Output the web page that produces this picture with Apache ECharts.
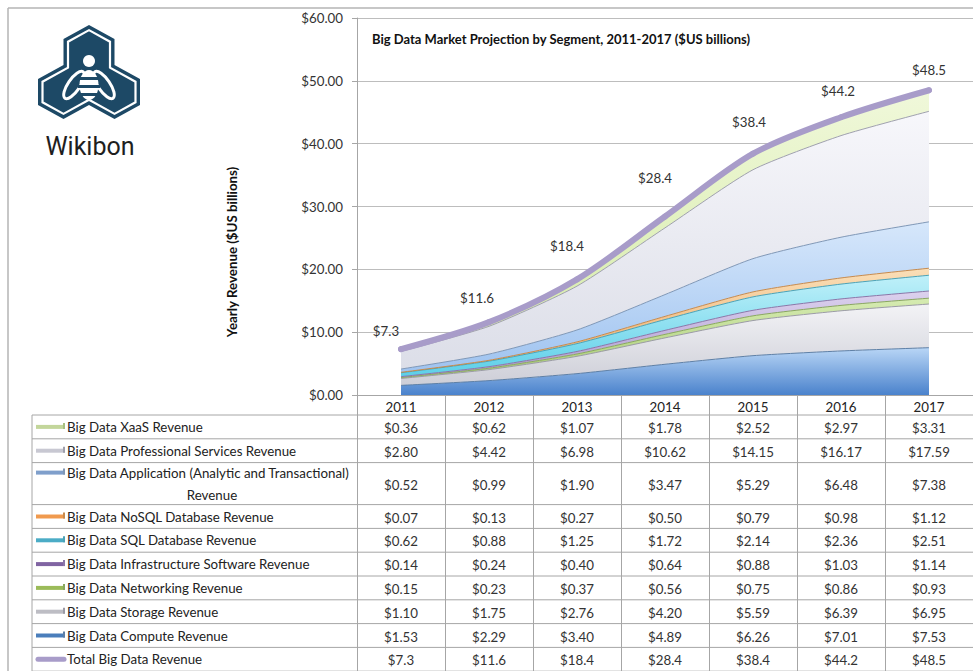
<!DOCTYPE html>
<html>
<head>
<meta charset="utf-8">
<script src="https://cdn.jsdelivr.net/npm/echarts@6/dist/echarts.min.js"></script>
<style>
  html, body { margin: 0; padding: 0; background: #fff; }
  #chart { width: 973px; height: 671px; }
</style>
</head>
<body>
<div id="chart"></div>
<script>
// values ($US billions)
const YEARS = ['2011', '2012', '2013', '2014', '2015', '2016', '2017'];
const XAAS = [0.36, 0.62, 1.07, 1.78, 2.52, 2.97, 3.31];
const PRO_SERVICES = [2.80, 4.42, 6.98, 10.62, 14.15, 16.17, 17.59];
const APPLICATION = [0.52, 0.99, 1.90, 3.47, 5.29, 6.48, 7.38];
const NOSQL = [0.07, 0.13, 0.27, 0.50, 0.79, 0.98, 1.12];
const SQL_DB = [0.62, 0.88, 1.25, 1.72, 2.14, 2.36, 2.51];
const INFRA_SOFTWARE = [0.14, 0.24, 0.40, 0.64, 0.88, 1.03, 1.14];
const NETWORKING = [0.15, 0.23, 0.37, 0.56, 0.75, 0.86, 0.93];
const STORAGE = [1.10, 1.75, 2.76, 4.20, 5.59, 6.39, 6.95];
const COMPUTE = [1.53, 2.29, 3.40, 4.89, 6.26, 7.01, 7.53];
const TOTAL = [7.3, 11.6, 18.4, 28.4, 38.4, 44.2, 48.5];

const TITLE = 'Big Data Market Projection by Segment, 2011-2017 ($US billions)';
const Y_NAME = 'Yearly Revenue ($US billions)';
const TOTAL_NAME = 'Total Big Data Revenue';

// stacked from the bottom up
const SEGMENTS = [
  { name: 'Big Data Compute Revenue', values: COMPUTE },
  { name: 'Big Data Storage Revenue', values: STORAGE },
  { name: 'Big Data Networking Revenue', values: NETWORKING },
  { name: 'Big Data Infrastructure Software Revenue', values: INFRA_SOFTWARE },
  { name: 'Big Data SQL Database Revenue', values: SQL_DB },
  { name: 'Big Data NoSQL Database Revenue', values: NOSQL },
  { name: 'Big Data Application (Analytic and Transactional) Revenue', values: APPLICATION },
  { name: 'Big Data Professional Services Revenue', values: PRO_SERVICES },
  { name: 'Big Data XaaS Revenue', values: XAAS },
];

const STYLES = {
  'Big Data Compute Revenue': { top: '#b9d6f6', bottom: '#4a82cc', line: '#5d7fa6', swatch: '#4a7ebb' },
  'Big Data Storage Revenue': { top: '#f3f3f6', bottom: '#cdced7', line: '#9b9ba6', swatch: '#bdbdc4' },
  'Big Data Networking Revenue': { top: '#d6ebb2', bottom: '#a7cb72', line: '#89a75f', swatch: '#9bbb59' },
  'Big Data Infrastructure Software Revenue': { top: '#dcd2ee', bottom: '#ab97ce', line: '#8a76a8', swatch: '#8064a2' },
  'Big Data SQL Database Revenue': { top: '#bff0f9', bottom: '#5ccfe8', line: '#4aa2b7', swatch: '#4bacc6' },
  'Big Data NoSQL Database Revenue': { top: '#fadfb8', bottom: '#eea862', line: '#c78a4c', swatch: '#f09a4e' },
  'Big Data Application (Analytic and Transactional) Revenue': { top: '#d6e7fb', bottom: '#9fc3f0', line: '#7f97b6', swatch: '#7f9fcb' },
  'Big Data Professional Services Revenue': { top: '#f7f7fb', bottom: '#dcdee8', line: '#9fa0ad', swatch: '#c8c8d2' },
  'Big Data XaaS Revenue': { top: '#f0f8da', bottom: '#d5eba8', line: '#a7bf7f', swatch: '#c3d69b' },
};
const TOTAL_COLOR = '#a89cc9';
// label nudges around each total point, as in the picture
const TOTAL_LABEL_OFFSETS = [[-15, -4], [-12, -10], [-10, -19], [-10, -24], [-4, -17], [-3, -12], [0, -6]];

const FONT = 'Lato, "Liberation Sans", sans-serif';
const FS = 13.3;
const GRID = { left: 357, top: 18, width: 626, height: 377 };

const chart = echarts.init(document.getElementById('chart'), null, { renderer: 'svg' });

const areaSeries = SEGMENTS.map((seg) => {
  const st = STYLES[seg.name];
  return {
    name: seg.name,
    type: 'line',
    stack: 'segments',
    data: seg.values,
    smooth: 0.2,
    symbol: 'none',
    lineStyle: { width: 1, color: st.line },
    areaStyle: {
      opacity: 1,
      color: new echarts.graphic.LinearGradient(0, 0, 0, 1, [
        { offset: 0, color: st.top },
        { offset: 1, color: st.bottom },
      ]),
    },
    emphasis: { disabled: true },
    silent: true,
  };
});

const option = {
  animation: false,
  backgroundColor: '#ffffff',
  title: {
    text: TITLE,
    left: 372,
    top: 32,
    padding: 0,
    textStyle: { fontFamily: FONT, fontSize: 13, fontWeight: 'bold', color: '#111' },
  },
  grid: GRID,
  xAxis: {
    type: 'category',
    data: YEARS,
    boundaryGap: true,
    axisLine: { lineStyle: { color: '#a6a6a6', width: 1 } },
    axisTick: { show: true, interval: 0, length: 276, lineStyle: { color: '#a6a6a6' } },
    axisLabel: { interval: 0, margin: 5, color: '#222', fontFamily: FONT, fontSize: FS },
    splitLine: { show: false },
  },
  yAxis: {
    type: 'value',
    min: 0,
    max: 60,
    interval: 10,
    axisLine: { show: true, lineStyle: { color: '#a6a6a6' } },
    axisTick: { show: true, length: 5, lineStyle: { color: '#a6a6a6' } },
    axisLabel: {
      margin: 14,
      color: '#333',
      fontFamily: FONT,
      fontSize: FS,
      formatter: (v) => '$' + v.toFixed(2),
    },
    splitLine: { lineStyle: { color: '#bdbdbd', width: 1 } },
  },
  series: areaSeries.concat([
    {
      name: TOTAL_NAME,
      type: 'line',
      data: TOTAL.map((v, i) => ({ value: v, label: { offset: TOTAL_LABEL_OFFSETS[i] } })),
      smooth: 0.3,
      symbol: 'circle',
      symbolSize: 6,
      itemStyle: { color: TOTAL_COLOR },
      lineStyle: { width: 6, color: TOTAL_COLOR, cap: 'round' },
      z: 5,
      label: {
        show: true,
        position: 'top',
        distance: 5,
        color: '#333',
        fontFamily: FONT,
        fontSize: FS,
        formatter: (p) => '$' + p.value.toFixed(1),
      },
      emphasis: { disabled: true },
      silent: true,
    },
  ]),
};

chart.setOption(option);

// ---- logo ----
function insetPolygon(pts, d) {
  let a = 0;
  for (let i = 0; i < pts.length; i++) {
    const p = pts[i], q = pts[(i + 1) % pts.length];
    a += p[0] * q[1] - q[0] * p[1];
  }
  const s = a > 0 ? 1 : -1;
  const n = pts.length;
  const lines = [];
  for (let i = 0; i < n; i++) {
    const p = pts[i], q = pts[(i + 1) % n];
    const dx = q[0] - p[0], dy = q[1] - p[1], L = Math.hypot(dx, dy);
    const nx = (-dy / L) * s, ny = (dx / L) * s;
    lines.push({ p: [p[0] + nx * d, p[1] + ny * d], d: [dx, dy] });
  }
  const out = [];
  for (let i = 0; i < n; i++) {
    const l1 = lines[(i - 1 + n) % n], l2 = lines[i];
    const cr = l1.d[0] * l2.d[1] - l1.d[1] * l2.d[0];
    const wx = l2.p[0] - l1.p[0], wy = l2.p[1] - l1.p[1];
    const t = (wx * l2.d[1] - wy * l2.d[0]) / cr;
    out.push([l1.p[0] + t * l1.d[0], l1.p[1] + t * l1.d[1]]);
  }
  return out;
}

function logoGraphics() {
  // three hexagons in a honeycomb, half width h, slope rise a, side s
  const cx = 89, y0 = 25, h = 25.5, a = 14, s = 26;
  const outline = [
    [cx, y0], [cx + h, y0 + a], [cx + h, y0 + a + s], [cx + 2 * h, y0 + 2 * a + s],
    [cx + 2 * h, y0 + 2 * a + 2 * s], [cx + h, y0 + 3 * a + 2 * s], [cx, y0 + 2 * a + 2 * s],
    [cx - h, y0 + 3 * a + 2 * s], [cx - 2 * h, y0 + 2 * a + 2 * s], [cx - 2 * h, y0 + 2 * a + s],
    [cx - h, y0 + a + s], [cx - h, y0 + a],
  ];
  const navy = '#1d4966';
  return [
    { type: 'polygon', shape: { points: outline }, style: { fill: navy } },
    { type: 'polygon', shape: { points: insetPolygon(outline, 4.5) }, style: { fill: navy, stroke: '#fff', lineWidth: 2.2 } },
    { type: 'ellipse', x: 74, y: 85, rotation: -0.6, shape: { cx: 0, cy: 0, rx: 6, ry: 16 }, style: { fill: navy, stroke: '#fff', lineWidth: 3 } },
    { type: 'ellipse', x: 104, y: 85, rotation: 0.6, shape: { cx: 0, cy: 0, rx: 6, ry: 16 }, style: { fill: navy, stroke: '#fff', lineWidth: 3 } },
    { type: 'ellipse', shape: { cx: 89, cy: 85, rx: 9.5, ry: 15 }, style: { fill: '#fff' } },
    { type: 'rect', shape: { x: 78, y: 77, width: 22, height: 3 }, style: { fill: navy } },
    { type: 'rect', shape: { x: 78, y: 85, width: 22, height: 3 }, style: { fill: navy } },
    { type: 'rect', shape: { x: 78, y: 93, width: 22, height: 3 }, style: { fill: navy } },
    { type: 'circle', shape: { cx: 89, cy: 61, r: 6 }, style: { fill: '#fff' } },
    {
      type: 'text', x: 90, y: 146,
      style: { text: 'Wikibon', fill: '#1e1e1e', font: '25px Roboto, sans-serif', align: 'center', verticalAlign: 'middle' },
    },
  ];
}

// ---- data table under the plot ----
function tableGraphics() {
  const colX = YEARS.map((y, i) => chart.convertToPixel({ xAxisIndex: 0 }, i));
  const tableTop = 415, rowH = 23.8, wrapRowH = 42;
  const left = 32, right = 973, bottom = 671;
  const lineColor = '#a6a6a6';
  const font = FS + 'px ' + FONT;
  const rows = SEGMENTS.slice().reverse().map((s) => ({ name: s.name, values: s.values, digits: 2, st: STYLES[s.name] }));
  rows.push({ name: TOTAL_NAME, values: TOTAL, digits: 1, total: true });

  const els = [];
  els.push({ type: 'line', shape: { x1: left, y1: tableTop, x2: left, y2: bottom }, style: { stroke: lineColor, lineWidth: 1 } });
  let y = tableTop;
  rows.forEach((row) => {
    const wrap = row.name.length > 45;
    const hgt = wrap ? wrapRowH : rowH;
    els.push({ type: 'line', shape: { x1: left, y1: y, x2: right, y2: y }, style: { stroke: lineColor, lineWidth: 1 } });
    const mid = y + hgt / 2;
    const firstLine = wrap ? y + 10 : mid;
    // legend key
    if (row.total) {
      els.push({ type: 'line', shape: { x1: 38, y1: firstLine, x2: 64, y2: firstLine }, style: { stroke: TOTAL_COLOR, lineWidth: 5, lineCap: 'round' } });
    } else {
      els.push({ type: 'rect', shape: { x: 36, y: firstLine - 2, width: 29, height: 4 }, style: { fill: row.st.swatch } });
      els.push({ type: 'rect', shape: { x: 63, y: firstLine - 4, width: 2, height: 6 }, style: { fill: row.st.line } });
    }
    // name
    if (wrap) {
      const cut = row.name.lastIndexOf(' ');
      els.push({ type: 'text', x: 67, y: firstLine, style: { text: row.name.slice(0, cut), fill: '#222', font: font, verticalAlign: 'middle' } });
      els.push({ type: 'text', x: 212, y: y + 32, style: { text: row.name.slice(cut + 1), fill: '#222', font: font, align: 'center', verticalAlign: 'middle' } });
    } else {
      els.push({ type: 'text', x: 67, y: mid, style: { text: row.name, fill: '#222', font: font, verticalAlign: 'middle' } });
    }
    // values
    row.values.forEach((v, i) => {
      els.push({
        type: 'text', x: colX[i], y: mid + 1,
        style: { text: '$' + v.toFixed(row.digits), fill: '#333', font: font, align: 'center', verticalAlign: 'middle' },
      });
    });
    y += hgt;
  });
  els.push({ type: 'line', shape: { x1: left, y1: y, x2: right, y2: y }, style: { stroke: lineColor, lineWidth: 1 } });
  return els;
}

function frameGraphics() {
  return [
    { type: 'line', shape: { x1: 8, y1: 8, x2: 973, y2: 8 }, style: { stroke: '#b5b5b5', lineWidth: 1.5 } },
    { type: 'line', shape: { x1: 8, y1: 8, x2: 8, y2: 671 }, style: { stroke: '#b5b5b5', lineWidth: 1.5 } },
    {
      type: 'text', x: 232, y: 252, rotation: Math.PI / 2,
      style: { text: Y_NAME, fill: '#111', font: 'bold ' + FS + 'px ' + FONT, align: 'center', verticalAlign: 'middle' },
    },
  ];
}

chart.setOption({
  graphic: { elements: frameGraphics().concat(logoGraphics(), tableGraphics()) },
});
</script>
</body>
</html>
